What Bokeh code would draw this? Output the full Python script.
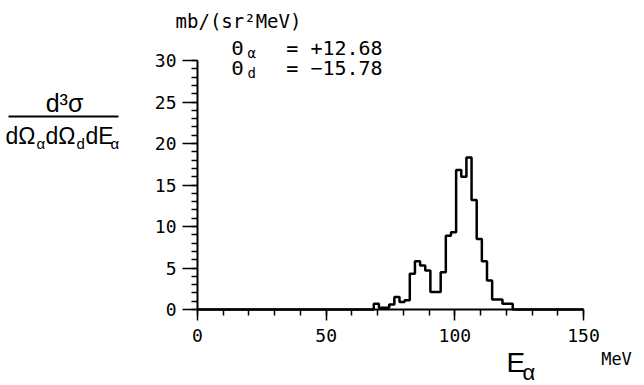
import numpy as np
from bokeh.plotting import figure
from bokeh.models import Label, BoxAnnotation, FixedTicker, Range1d
from bokeh.embed import file_html
from bokeh.resources import INLINE

# ---- data ----
bin_centers = [69.5, 71.5, 73.5, 75.5, 77.5, 79.5, 81.5, 83.5, 85.5, 87.5,
               89.5, 91.5, 93.5, 95.5, 97.5, 99.5, 101.5, 103.5, 105.5, 107.5,
               109.5, 111.5, 113.5, 115.5, 117.5, 119.5, 121.5]
cross_section = [0.7, 0.2, 0.2, 0.6, 1.5, 0.9, 1.1, 4.3, 5.8, 5.3,
                 4.7, 2.1, 2.1, 4.5, 8.9, 9.3, 16.8, 16.0, 18.3, 13.2,
                 8.5, 5.8, 3.5, 1.2, 1.2, 0.7, 0.7]
bin_width = 2.0
x_ticks = [0, 50, 100, 150]
y_ticks = [0, 5, 10, 15, 20, 25, 30]
x_min, x_max = 0, 150
y_min, y_max = 0, 30

# ---- canvas geometry: the frame fills the whole canvas ----
W, H = 644, 385
AX_L, AX_R = 197, 583      # pixel columns of x = 0 and x = 150
AX_B, AX_T = 309, 60       # pixel rows of y = 0 and y = 30
xs_per_px = (x_max - x_min) / (AX_R - AX_L)
ys_per_px = (y_max - y_min) / (AX_B - AX_T)
x_range = Range1d(x_min - AX_L * xs_per_px, x_max + (W - AX_R) * xs_per_px)
y_range = Range1d(y_min - (H - AX_B) * ys_per_px, y_max + AX_T * ys_per_px)

p = figure(frame_width=W, frame_height=H, min_border=0,
           x_range=x_range, y_range=y_range,
           output_backend="svg", toolbar_location=None)
p.outline_line_color = None
p.xgrid.visible = False
p.ygrid.visible = False
p.background_fill_color = "white"
p.border_fill_color = "white"

PLOT_FONT = "DejaVu Sans Mono"
TEX_FONT = "Liberation Sans"

for ax in (p.xaxis[0], p.yaxis[0]):
    ax.fixed_location = 0
    ax.axis_line_width = 2
    ax.axis_line_color = "black"
    ax.major_tick_line_width = 1.5
    ax.minor_tick_line_width = 1.5
    ax.major_tick_line_color = "black"
    ax.minor_tick_line_color = "black"
    ax.major_tick_in = 0
    ax.minor_tick_in = 0
    ax.major_label_text_font = PLOT_FONT
    ax.major_label_text_font_size = "18px"
    ax.major_label_text_color = "black"

p.xaxis.bounds = (x_min, x_max)
p.yaxis.bounds = (y_min, y_max)
p.xaxis.ticker = FixedTicker(ticks=x_ticks, minor_ticks=list(range(0, 151, 10)))
p.yaxis.ticker = FixedTicker(ticks=y_ticks, minor_ticks=list(range(0, 31, 1)))
p.xaxis.major_tick_out = 11
p.xaxis.minor_tick_out = 6
p.xaxis.major_label_standoff = 8
p.yaxis.major_tick_out = 15
p.yaxis.minor_tick_out = 6
p.yaxis.major_label_standoff = 6

# ---- histogram as a step line ----
centers = np.array(bin_centers)
vals = np.array(cross_section)
left_edges = centers - bin_width / 2
xs = np.concatenate([[x_min], left_edges, [left_edges[-1] + bin_width], [x_max]])
ys = np.concatenate([[0], vals, [0], [0]])
p.step(x=xs, y=ys, mode="after", line_color="black", line_width=2.5)

# ---- annotation text placed in canvas pixels (px, baseline row) ----
def lab(px, base, text, font, size, align="left"):
    mid = base - 0.36 * size
    p.add_layout(Label(x=px, y=mid, x_units="canvas", y_units="canvas",
                       text=text, text_font=font, text_font_size=f"{size}px",
                       text_align=align, text_baseline="middle",
                       text_color="black"))

# unit text at top
lab(238, 27, "mb/(sr²MeV)", PLOT_FONT, 19, "center")

# angle annotations
lab(231, 55, "Θ", PLOT_FONT, 20)
lab(247, 58, "α", PLOT_FONT, 14)
lab(334, 55, "= +12.68", PLOT_FONT, 20, "center")
lab(231, 75, "Θ", PLOT_FONT, 20)
lab(247, 78, "d", PLOT_FONT, 14)
lab(334, 75, "= −15.78", PLOT_FONT, 20, "center")

# y-axis title as a fraction
lab(64, 111, "d³σ", TEX_FONT, 25, "center")
p.add_layout(BoxAnnotation(left=8, right=118, top=115, bottom=117,
                           left_units="canvas", right_units="canvas",
                           top_units="canvas", bottom_units="canvas",
                           fill_color="black", fill_alpha=1.0, line_color=None))
lab(5, 144, "dΩ", TEX_FONT, 23)
lab(36, 148, "α", TEX_FONT, 15)
lab(45, 144, "dΩ", TEX_FONT, 23)
lab(76, 148, "d", TEX_FONT, 15)
lab(85, 144, "dE", TEX_FONT, 23)
lab(110, 148, "α", TEX_FONT, 15)

# x-axis title
lab(506, 372, "E", TEX_FONT, 28)
lab(522, 380, "α", TEX_FONT, 22)
lab(616, 365, "MeV", PLOT_FONT, 17, "center")

open("out.html", "w").write(file_html(p, INLINE))
